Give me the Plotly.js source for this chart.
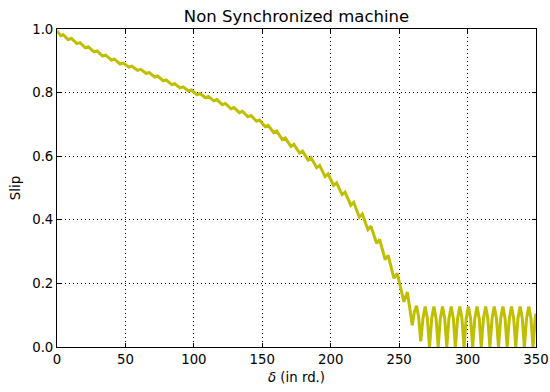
<!DOCTYPE html>
<html>
<head>
<meta charset="utf-8">
<script src="https://cdn.plot.ly/plotly-3.0.1.min.js"></script>
<style>
  html, body { margin: 0; padding: 0; background: #fff; }
  #chart { width: 550px; height: 392px; }
</style>
</head>
<body>
<div id="chart"></div>
<script>
// Values
const deltaValues = [
  0, 2.8, 4.6, 8.0, 10.6, 14.5, 16.8, 20.7, 23.0, 27.0, 29.3, 33.3, 35.6, 39.7, 42.0, 46.1, 48.4,
  52.5, 54.8, 58.9, 61.2, 65.2, 67.4, 71.4, 73.6, 77.6, 79.8, 83.8, 86.0, 89.9, 92.1, 96.1, 98.3,
  102.2, 104.4, 108.4, 110.6, 114.6, 116.8, 120.8, 123.0, 127.1, 129.3, 133.3, 135.5, 139.6, 141.8,
  145.8, 148.0, 152.1, 154.3, 158.3, 160.5, 164.6, 166.8, 170.9, 173.1, 177.2, 179.4, 183.5, 185.7,
  189.7, 191.9, 195.9, 198.1, 202.1, 204.3, 208.3, 210.5, 214.6, 216.8, 220.9, 223.1, 227.2, 229.4,
  233.5, 235.7, 239.8, 242.0, 246.2, 248.6, 253.5, 256.0, 259.6, 261.1, 262.7, 264.2, 265.8,
  267.4, 269.0, 270.6, 272.2, 273.8, 275.4, 277.0, 278.5, 280.1, 281.7, 283.3, 284.8,
  286.4, 288.0, 289.6, 291.1, 292.7, 294.3, 295.9, 297.4, 299.0, 300.6, 302.2, 303.7,
  305.3, 306.9, 308.5, 310.0, 311.6, 313.2, 314.8, 316.3, 317.9, 319.5, 321.1, 322.6,
  324.2, 325.8, 327.4, 328.9, 330.5, 332.1, 333.7, 335.2, 336.8, 338.4, 340.0, 341.5,
  343.1, 344.7, 346.3, 347.8, 349.4, 350.0
];
const slipValues = [
  0.994, 0.979, 0.982, 0.967, 0.970, 0.954, 0.957, 0.941, 0.944, 0.928, 0.931, 0.915, 0.918, 0.902, 0.905, 0.890, 0.893,
  0.880, 0.883, 0.870, 0.873, 0.860, 0.863, 0.849, 0.852, 0.837, 0.840, 0.825, 0.828, 0.815, 0.818, 0.805, 0.808,
  0.793, 0.797, 0.784, 0.788, 0.774, 0.778, 0.762, 0.766, 0.749, 0.753, 0.737, 0.741, 0.724, 0.728,
  0.710, 0.714, 0.693, 0.697, 0.674, 0.679, 0.652, 0.657, 0.631, 0.637, 0.610, 0.616, 0.588, 0.595,
  0.564, 0.571, 0.536, 0.544, 0.508, 0.516, 0.479, 0.487, 0.446, 0.455, 0.408, 0.418, 0.369, 0.380,
  0.326, 0.338, 0.275, 0.288, 0.216, 0.232, 0.142, 0.173, 0.068, 0.110, 0.130, 0.095, 0.018,
  0.090, 0.127, 0.090, 0.000, 0.090, 0.127, 0.090, 0.000, 0.090, 0.127, 0.090, 0.000,
  0.090, 0.127, 0.090, 0.000, 0.090, 0.127, 0.090, 0.000, 0.090, 0.127, 0.090, 0.000,
  0.090, 0.127, 0.090, 0.000, 0.090, 0.127, 0.090, 0.000, 0.090, 0.127, 0.090, 0.000,
  0.090, 0.127, 0.090, 0.000, 0.090, 0.127, 0.090, 0.000, 0.090, 0.127, 0.090, 0.000,
  0.090, 0.127, 0.090, 0.000, 0.090, 0.105
];
const xTickValues = [0, 50, 100, 150, 200, 250, 300, 350];
const yTickValues = [0.0, 0.2, 0.4, 0.6, 0.8, 1.0];
const chartTitle = "Non Synchronized machine";
const xLabel = "<i>δ</i> (in rd.)";
const yLabel = "Slip";

const FONT = "DejaVu Sans, Bitstream Vera Sans, sans-serif";

const trace = {
  x: deltaValues,
  y: slipValues,
  type: "scatter",
  mode: "lines",
  line: { color: "#bfbf00", width: 3 },
  hoverinfo: "skip"
};

const axisCommon = {
  showline: true,
  linecolor: "#000",
  linewidth: 1,
  mirror: "allticks",
  ticks: "inside",
  ticklen: 4,
  tickwidth: 1,
  tickcolor: "#000",
  showgrid: true,
  gridcolor: "#000",
  gridwidth: 1,
  griddash: "1px,3px",
  zeroline: false,
  tickfont: { family: FONT, size: 13.3, color: "#000" }
};

const layout = {
  width: 550,
  height: 392,
  margin: { l: 57, r: 14, t: 29, b: 45, pad: 0 },
  paper_bgcolor: "#fff",
  plot_bgcolor: "#fff",
  showlegend: false,
  font: { family: FONT, color: "#000" },
  title: {
    text: chartTitle,
    font: { family: FONT, size: 16.5, color: "#000" },
    x: 0.5, xref: "paper", xanchor: "center",
    y: 1 - 16 / 392, yref: "container", yanchor: "middle"
  },
  xaxis: Object.assign({}, axisCommon, {
    range: [0, 350],
    tickvals: xTickValues,
    ticktext: xTickValues.map(String),
    title: { text: xLabel, font: { family: FONT, size: 13.3, color: "#000" }, standoff: 6 }
  }),
  yaxis: Object.assign({}, axisCommon, {
    range: [0, 1],
    tickvals: yTickValues,
    ticktext: yTickValues.map(v => v.toFixed(1)),
    title: { text: yLabel, font: { family: FONT, size: 13.3, color: "#000" }, standoff: 8 }
  })
};

Plotly.newPlot("chart", [trace], layout, { displayModeBar: false, staticPlot: true });
</script>
</body>
</html>
